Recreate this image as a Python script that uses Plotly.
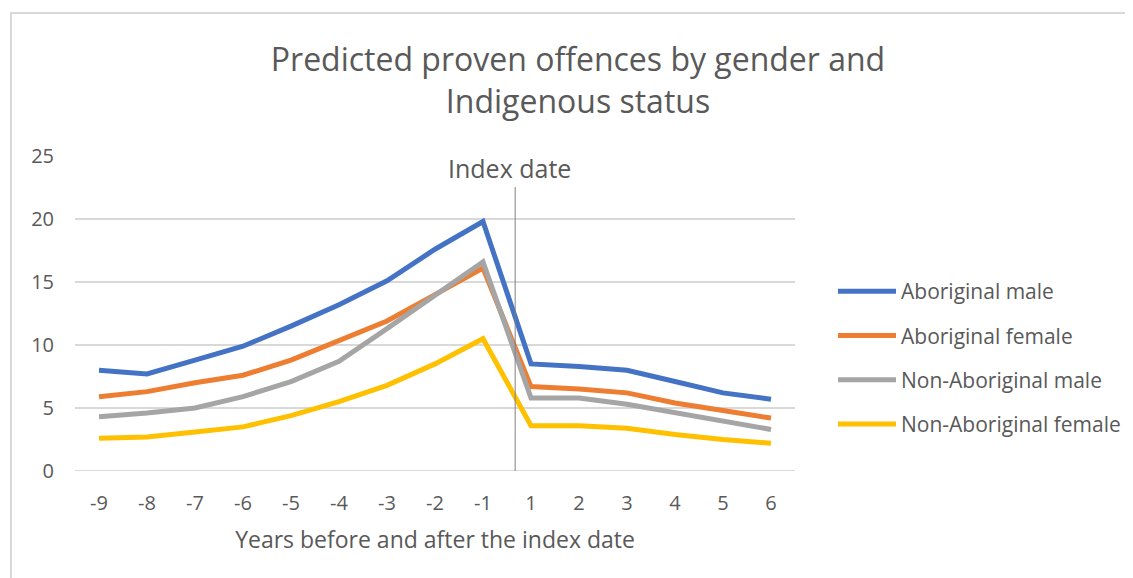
import plotly.graph_objects as go

years = ["-9", "-8", "-7", "-6", "-5", "-4", "-3", "-2", "-1", "1", "2", "3", "4", "5", "6"]
aboriginal_male = [8.0, 7.7, 8.8, 9.9, 11.5, 13.2, 15.1, 17.6, 19.8, 8.5, 8.3, 8.0, 7.1, 6.2, 5.7]
aboriginal_female = [5.9, 6.3, 7.0, 7.6, 8.8, 10.3, 11.9, 14.0, 16.1, 6.7, 6.5, 6.2, 5.4, 4.8, 4.2]
non_aboriginal_male = [4.3, 4.6, 5.0, 5.9, 7.1, 8.7, 11.3, 14.0, 16.6, 5.8, 5.8, 5.3, 4.6, 4.0, 3.3]
non_aboriginal_female = [2.6, 2.7, 3.1, 3.5, 4.4, 5.5, 6.8, 8.5, 10.5, 3.6, 3.6, 3.4, 2.9, 2.5, 2.2]

series = [
    ("Aboriginal male", aboriginal_male, "#4472C4"),
    ("Aboriginal female", aboriginal_female, "#ED7D31"),
    ("Non-Aboriginal male", non_aboriginal_male, "#A5A5A5"),
    ("Non-Aboriginal female", non_aboriginal_female, "#FFC000"),
]

FONT = "Open Sans"
TXT = "#595959"
OFF = 8  # page body margin
W, H = 1133, 578
L, T = 75 - OFF, 156 - OFF
pw, ph = 720, 315
R = W - L - pw
B = H - T - ph

fig = go.Figure()
xs = list(range(len(years)))
for i, (name, vals, col) in enumerate(series):
    fig.add_trace(go.Scatter(
        x=xs, y=vals, name=name, mode="lines",
        line=dict(color=col, width=5), legendgroup=str(i),
    ))

# convert reference-screen pixel coords to paper coords
def px_x(p):
    return (p - OFF - L) / pw

def px_y(p):
    return (T + ph - (p - OFF)) / ph

fig.update_layout(
    width=W, height=H,
    margin=dict(l=L, r=R, t=T, b=B),
    paper_bgcolor="white", plot_bgcolor="white",
    font=dict(family=FONT, color=TXT, size=20),
    title=dict(
        text="Predicted proven offences by gender and<br>Indigenous status",
        xref="container", x=(578 - OFF) / W, xanchor="center",
        yref="container", y=1 - (79 - 2 * OFF) / H, yanchor="middle",
        font=dict(family=FONT, size=32, color=TXT),
    ),
    xaxis=dict(
        range=[-0.5, len(years) - 0.5], tickmode="array", tickvals=xs, ticktext=years,
        showgrid=False, zeroline=False, showline=False, ticks="",
        tickfont=dict(size=20, color=TXT), ticklabelstandoff=18,
        title=dict(text="Years before and after the index date", font=dict(size=23, color=TXT), standoff=16),
    ),
    yaxis=dict(
        range=[0, 25], dtick=5, showgrid=True, gridcolor="#D9D9D9", gridwidth=2,
        zeroline=False, showline=False, ticks="",
        tickfont=dict(size=20, color=TXT), ticklabelstandoff=20,
    ),
    legend=dict(
        x=px_x(833), y=px_y(271), xanchor="left", yanchor="top",
        font=dict(size=21, color=TXT), tracegroupgap=14, itemwidth=58,
        bgcolor="rgba(0,0,0,0)",
    ),
    showlegend=True,
)

# bottom gridline at 0
fig.add_hline(y=0, line=dict(color="#D9D9D9", width=2), layer="below")

# index date marker
idx_x = 8.67
fig.add_shape(type="line", xref="x", yref="y", x0=idx_x, x1=idx_x, y0=0, y1=px_y(187) * 25,
              line=dict(color="#808080", width=1))
fig.add_annotation(x=idx_x - 0.12, y=px_y(168) * 25, xref="x", yref="y", text="Index date",
                   showarrow=False, font=dict(size=25, color=TXT), xanchor="center", yanchor="middle")

# chart border
fig.add_shape(type="rect", xref="paper", yref="paper",
              x0=px_x(11), x1=px_x(W + 40), y0=px_y(H + 40), y1=px_y(13),
              line=dict(color="#D9D9D9", width=2), fillcolor="rgba(0,0,0,0)", layer="below")

fig.write_html("out.html")
